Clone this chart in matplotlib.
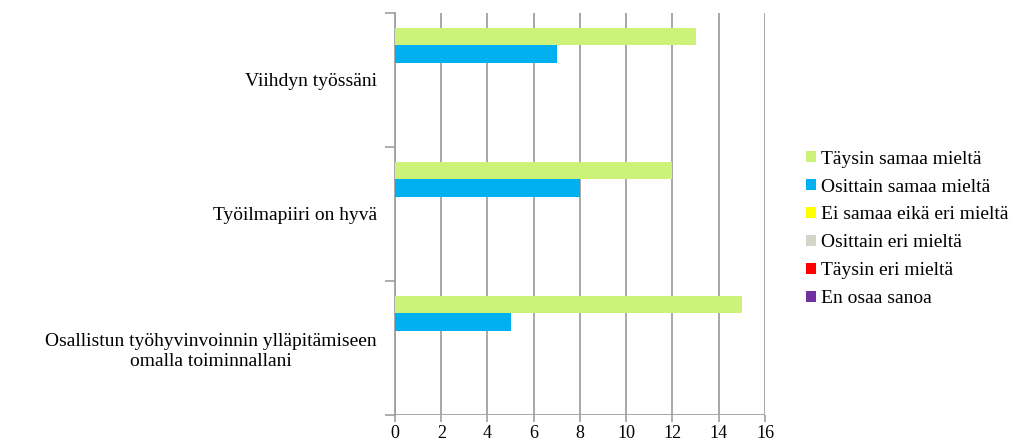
import numpy as np
import matplotlib.pyplot as plt

plt.rcParams['font.family'] = ['Liberation Serif', 'DejaVu Serif']

categories = ['Viihdyn työssäni', 'Työilmapiiri on hyvä',
              'Osallistun työhyvinvoinnin ylläpitämiseen\nomalla toiminnallani']
series = ['Täysin samaa mieltä', 'Osittain samaa mieltä', 'Ei samaa eikä eri mieltä',
          'Osittain eri mieltä', 'Täysin eri mieltä', 'En osaa sanoa']
taysin_samaa = [13, 12, 15]
osittain_samaa = [7, 8, 5]
ei_samaa_eika_eri = [0, 0, 0]
osittain_eri = [0, 0, 0]
taysin_eri = [0, 0, 0]
en_osaa = [0, 0, 0]
values = [taysin_samaa, osittain_samaa, ei_samaa_eika_eri, osittain_eri, taysin_eri, en_osaa]
colors = ['#CCF27A', '#00B0F0', '#FFFF00', '#D4D4C8', '#FF0000', '#7030A0']
xticks = np.arange(0, 17, 2)

fig = plt.figure(figsize=(10.3, 4.43), dpi=100)
ax = fig.add_axes([0.3835, 0.0632, 0.3592, 0.9075])

y = np.arange(len(categories))
h = 0.13
for i, (name, vals, c) in enumerate(zip(series, values, colors)):
    ax.barh(y - 0.39 + h * (i + 0.5), vals, height=h, color=c, label=name, zorder=3)

ax.set_xlim(0, 16)
ax.set_ylim(len(categories) - 0.5, -0.5)
ax.set_xticks(xticks)
ax.set_xticklabels([str(v) for v in xticks], fontsize=13)
ax.set_yticks(y)
ax.set_yticklabels(categories, fontsize=14, ha='right', multialignment='center',
                   linespacing=1.2, family=['Liberation Serif', 'DejaVu Serif'])
ax.set_yticks(np.arange(len(categories) + 1) - 0.5, minor=True)
ax.tick_params(axis='y', which='major', length=0, pad=13)
ax.tick_params(axis='y', which='minor', length=7, color='#A0A0A0', width=1.2)
ax.tick_params(axis='x', length=5, color='#A0A0A0', width=1.2, pad=2)
ax.grid(axis='x', color='#A0A0A0', linewidth=1.3, zorder=0)
for s in ['top', 'right', 'bottom']:
    ax.spines[s].set_visible(False)
ax.spines['left'].set_color('#A0A0A0')
ax.spines['left'].set_linewidth(1.3)
ax.axhline(len(categories) - 0.5, color='#A0A0A0', linewidth=1.3, zorder=1)

fig.legend(loc='upper left', bbox_to_anchor=(0.783, 0.66), frameon=False,
           prop={'family': ['Liberation Serif', 'DejaVu Serif'], 'size': 14},
           handlelength=0.5, handleheight=0.5, handletextpad=0.25, labelspacing=0.56,
           borderaxespad=0, borderpad=0)

fig.savefig('out.png', dpi=100)
